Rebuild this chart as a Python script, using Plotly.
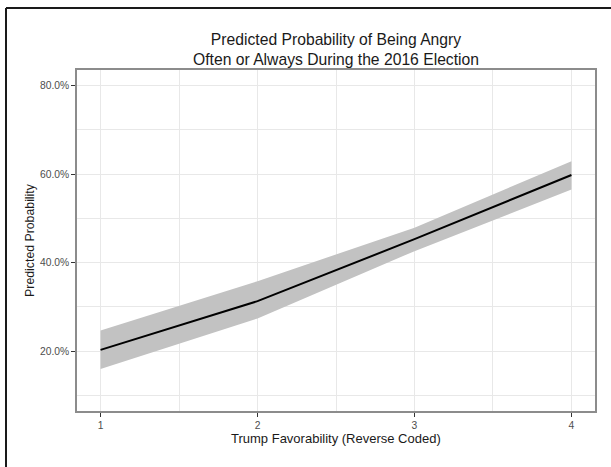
import plotly.graph_objects as go

favorability = [1, 2, 3, 4]
predicted = [0.203, 0.313, 0.453, 0.598]
lower_ci = [0.160, 0.274, 0.426, 0.565]
upper_ci = [0.247, 0.358, 0.479, 0.629]
y_ticks = [0.2, 0.4, 0.6, 0.8]
x_ticks = [1, 2, 3, 4]

W, H = 611, 467
L, R, T, B = 77, 16, 70, 56
pw, ph = W - L - R, H - T - B

def px_x(p):
    return (p - L) / pw

def px_y(p):
    return 1 - (p - T) / ph

fig = go.Figure()
fig.add_trace(go.Scatter(x=favorability, y=lower_ci, mode="lines",
                         line=dict(width=0, color="rgba(0,0,0,0)"), showlegend=False, hoverinfo="skip"))
fig.add_trace(go.Scatter(x=favorability, y=upper_ci, mode="lines", fill="tonexty",
                         fillcolor="#c2c2c2", line=dict(width=0, color="rgba(0,0,0,0)"),
                         showlegend=False, hoverinfo="skip"))
fig.add_trace(go.Scatter(x=favorability, y=predicted, mode="lines",
                         line=dict(color="#000000", width=2), showlegend=False))

grid = "#e8e8e8"
tickfont = dict(size=10.3, color="#4d4d4d")
fig.update_layout(
    width=W, height=H,
    margin=dict(l=L, r=R, t=T, b=B),
    paper_bgcolor="white", plot_bgcolor="white",
    font=dict(family="Liberation Sans, Arial, sans-serif", color="#1a1a1a"),
    title=dict(text="Predicted Probability of Being Angry<br>Often or Always During the 2016 Election",
               x=0.5, xref="paper", xanchor="center",
               y=1 - 45 / H, yref="container", yanchor="middle",
               font=dict(size=15.7, color="#1a1a1a")),
    xaxis=dict(range=[0.85, 4.15], tickvals=x_ticks, ticktext=[str(v) for v in x_ticks],
               showgrid=True, gridcolor=grid, gridwidth=1,
               minor=dict(tickvals=[1.5, 2.5, 3.5], showgrid=True, gridcolor=grid, gridwidth=1),
               ticks="outside", ticklen=4, tickcolor="#333333", tickwidth=1.2,
               tickfont=tickfont,
               showline=True, mirror=True, linecolor="#8c8c8c", linewidth=1.5,
               zeroline=False,
               title=dict(text="")),
    yaxis=dict(range=[0.065, 0.835], tickvals=y_ticks, tickformat=".1%",
               showgrid=True, gridcolor=grid, gridwidth=1,
               minor=dict(tickvals=[0.1, 0.3, 0.5, 0.7], showgrid=True, gridcolor=grid, gridwidth=1),
               ticks="outside", ticklen=4, tickcolor="#333333", tickwidth=1.2,
               tickfont=tickfont,
               showline=True, mirror=True, linecolor="#8c8c8c", linewidth=1.5,
               zeroline=False,
               title=dict(text="Predicted Probability", font=dict(size=12.3, color="#1a1a1a"), standoff=3)),
    annotations=[dict(text="Trump Favorability (Reverse Coded)", xref="paper", yref="paper",
                      x=0.5, y=px_y(438), xanchor="center", yanchor="middle",
                      showarrow=False, font=dict(size=13, color="#1a1a1a"))],
    shapes=[dict(type="line", xref="paper", yref="paper", x0=px_x(6), x1=px_x(6),
                 y0=px_y(8), y1=px_y(480), line=dict(color="#1a1a1a", width=2)),
            dict(type="line", xref="paper", yref="paper", x0=px_x(6), x1=px_x(620),
                 y0=px_y(8), y1=px_y(8), line=dict(color="#1a1a1a", width=2))],
)

fig.write_html("out.html")
